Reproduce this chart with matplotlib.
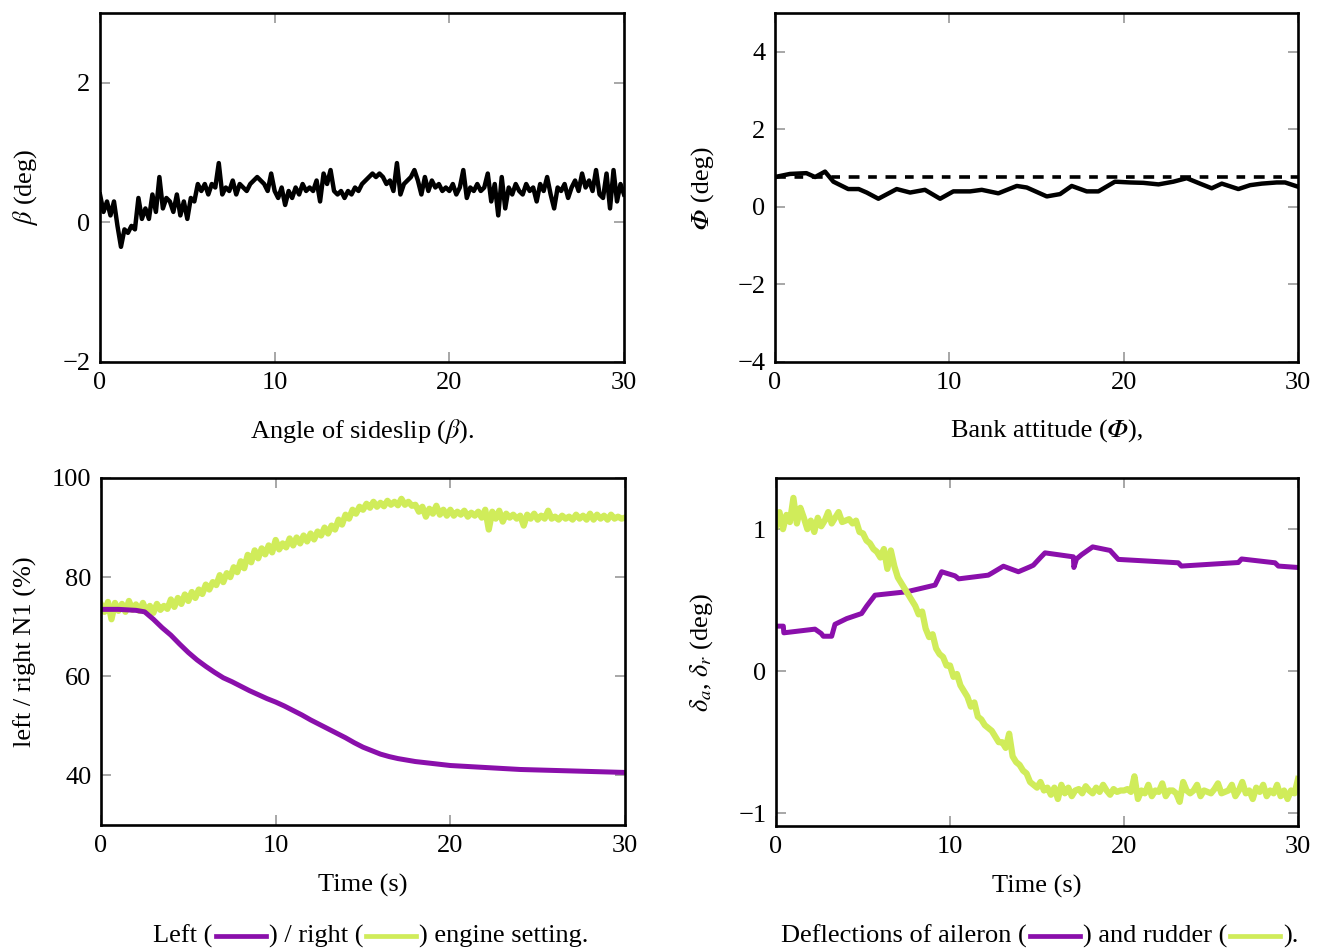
import numpy as np
import matplotlib
matplotlib.use('Agg')
import matplotlib.pyplot as plt
from matplotlib.lines import Line2D

plt.rcParams['font.family'] = ['Liberation Serif', 'STIXGeneral', 'DejaVu Serif']
plt.rcParams['mathtext.fontset'] = 'stix'

PURPLE = '#8a0fab'
YELLOW = '#d0ec5a'
FS = 19
PHI = '\U0001D6F7'  # italic capital phi

# time grids (s)
t_fine = np.linspace(0, 30, 151)
t_half = np.linspace(0, 30, 61)

# sideslip angle beta (deg), every 0.2 s
beta = [0.40, 0.15, 0.30, 0.10, 0.30, -0.05, -0.35, -0.10, -0.15, -0.05,
        -0.10, 0.35, 0.05, 0.20, 0.05, 0.40, 0.15, 0.65, 0.20, 0.35,
        0.30, 0.15, 0.40, 0.10, 0.30, 0.05, 0.35, 0.30, 0.55, 0.45,
        0.55, 0.40, 0.55, 0.50, 0.85, 0.40, 0.50, 0.45, 0.60, 0.40,
        0.55, 0.50, 0.45, 0.55, 0.60, 0.65, 0.60, 0.55, 0.45, 0.70,
        0.45, 0.35, 0.50, 0.25, 0.45, 0.35, 0.50, 0.40, 0.55, 0.45,
        0.50, 0.45, 0.60, 0.30, 0.70, 0.55, 0.75, 0.45, 0.40, 0.45,
        0.35, 0.45, 0.40, 0.50, 0.45, 0.55, 0.60, 0.65, 0.70, 0.65,
        0.70, 0.65, 0.55, 0.60, 0.45, 0.85, 0.40, 0.55, 0.60, 0.65,
        0.75, 0.60, 0.40, 0.65, 0.45, 0.60, 0.50, 0.55, 0.45, 0.50,
        0.45, 0.55, 0.40, 0.50, 0.75, 0.35, 0.50, 0.45, 0.55, 0.45,
        0.50, 0.70, 0.30, 0.55, 0.10, 0.65, 0.20, 0.50, 0.40, 0.55,
        0.45, 0.40, 0.55, 0.45, 0.50, 0.30, 0.55, 0.45, 0.65, 0.40,
        0.20, 0.50, 0.45, 0.55, 0.35, 0.50, 0.60, 0.45, 0.70, 0.50,
        0.60, 0.45, 0.75, 0.40, 0.35, 0.70, 0.20, 0.75, 0.30, 0.55,
        0.40]

# bank attitude phi (deg)
phi_t = [0.0, 0.1, 0.86, 1.8, 2.3, 2.87, 3.35, 4.2, 4.8, 5.26, 5.93, 6.98,
         7.75, 8.6, 9.47, 10.23, 11.19, 11.86, 12.81, 13.87, 14.44, 15.59,
         16.35, 17.02, 17.88, 18.55, 19.5, 20.37, 21.13, 22.0, 22.85, 23.62,
         24.38, 25.05, 25.63, 26.58, 27.25, 27.92, 28.78, 29.26, 30.0]
phi = [0.76, 0.78, 0.85, 0.87, 0.77, 0.91, 0.65, 0.46, 0.46, 0.37, 0.21, 0.46,
       0.37, 0.44, 0.21, 0.40, 0.40, 0.44, 0.35, 0.54, 0.50, 0.27,
       0.33, 0.54, 0.40, 0.40, 0.65, 0.63, 0.62, 0.58, 0.65, 0.74,
       0.60, 0.48, 0.60, 0.46, 0.56, 0.60, 0.63, 0.63, 0.52]
phi_ref = 0.78

# engine N1 (%)
n1_left = [73.5, 73.5, 73.5, 73.4, 73.3, 73.0, 71.5, 69.8, 68.3, 66.5,
           64.8, 63.3, 62.0, 60.8, 59.7, 58.9, 58.0, 57.1, 56.3, 55.5,
           54.8, 54.0, 53.1, 52.2, 51.2, 50.3, 49.4, 48.5, 47.6, 46.6,
           45.7, 45.0, 44.3, 43.8, 43.4, 43.1, 42.8, 42.6, 42.4, 42.2,
           42.0, 41.9, 41.8, 41.7, 41.6, 41.5, 41.4, 41.3, 41.2, 41.15,
           41.1, 41.05, 41.0, 40.95, 40.9, 40.85, 40.8, 40.75, 40.7, 40.65,
           40.6]
n1_right = [74.5, 73.0, 75.0, 71.5, 74.8, 73.2, 74.6, 73.0, 75.2, 73.4,
            74.5, 73.2, 74.8, 73.0, 74.2, 72.8, 74.6, 73.4, 74.2, 73.6,
            75.5, 74.0, 75.8, 74.6, 76.5, 75.2, 77.0, 75.8, 77.5, 76.6,
            78.5, 77.5, 79.0, 78.4, 80.4, 79.0, 80.8, 80.0, 82.0, 81.0,
            83.2, 81.8, 84.5, 83.0, 85.4, 83.8, 85.8, 84.6, 86.4, 85.0,
            87.5, 85.6, 86.8, 86.0, 87.8, 86.4, 88.0, 86.8, 88.4, 87.2,
            88.8, 87.6, 89.2, 88.4, 90.0, 88.8, 90.4, 89.6, 91.6, 90.6,
            92.6, 91.8, 93.6, 92.8, 94.2, 93.6, 94.8, 94.0, 95.2, 94.2,
            95.0, 94.3, 95.4, 94.6, 95.2, 94.5, 95.8, 94.6, 95.2, 94.4,
            94.6, 93.2, 94.2, 92.2, 93.8, 92.8, 94.4, 92.6, 93.6, 92.4,
            93.6, 92.4, 93.2, 92.6, 93.4, 92.2, 93.0, 92.4, 93.2, 92.0,
            93.6, 89.6, 93.2, 91.8, 93.4, 91.2, 92.8, 92.0, 92.6, 91.8,
            92.4, 90.4, 92.6, 91.8, 92.8, 91.6, 92.4, 91.8, 93.4, 91.8,
            92.2, 91.6, 92.4, 91.8, 92.2, 91.6, 92.6, 91.8, 92.4, 91.6,
            92.8, 91.6, 92.6, 91.8, 92.4, 91.6, 92.6, 91.8, 92.2, 91.8,
            92.0]

# aileron deflection (deg)
ail_t = [0.0, 0.42, 0.45, 2.24, 2.6, 2.72, 3.2, 3.39, 4.06, 4.92, 5.21, 5.69,
         7.51, 9.14, 9.52, 10.29, 10.5, 12.2, 12.4, 13.07, 13.93, 14.6, 14.79,
         15.2, 15.46, 17.09, 17.12, 17.27, 17.56, 18.2, 19.2, 19.67, 23.12,
         23.3, 26.57, 26.76, 28.68, 28.87, 30.0]
ail = [0.317, 0.317, 0.27, 0.296, 0.265, 0.246, 0.246, 0.33, 0.37, 0.406, 0.458, 0.535,
       0.559, 0.606, 0.70, 0.671, 0.65, 0.676, 0.69, 0.739, 0.70, 0.735, 0.746,
       0.80, 0.833, 0.805, 0.73, 0.79, 0.82, 0.875, 0.85, 0.787, 0.763,
       0.74, 0.765, 0.79, 0.763, 0.74, 0.73]

# rudder deflection (deg), every 0.2 s
rud = [1.02, 1.12, 1.00, 1.10, 1.05, 1.22, 1.04, 1.15, 1.08, 1.00,
       1.06, 0.98, 1.08, 1.02, 1.06, 1.12, 1.04, 1.08, 1.12, 1.05,
       1.06, 1.07, 1.04, 1.06, 0.98, 0.97, 0.92, 0.90, 0.86, 0.84,
       0.80, 0.86, 0.72, 0.85, 0.74, 0.66, 0.62, 0.58, 0.54, 0.50,
       0.46, 0.40, 0.42, 0.30, 0.24, 0.26, 0.16, 0.12, 0.10, 0.04,
       0.04, -0.04, -0.02, -0.10, -0.14, -0.18, -0.25, -0.22, -0.32, -0.34,
       -0.38, -0.40, -0.42, -0.46, -0.50, -0.50, -0.54, -0.44, -0.60, -0.64,
       -0.66, -0.70, -0.72, -0.78, -0.80, -0.82, -0.78, -0.84, -0.82, -0.87,
       -0.82, -0.90, -0.80, -0.86, -0.82, -0.88, -0.84, -0.83, -0.86, -0.81,
       -0.84, -0.86, -0.82, -0.85, -0.80, -0.84, -0.87, -0.83, -0.85, -0.84,
       -0.84, -0.83, -0.85, -0.74, -0.90, -0.84, -0.86, -0.80, -0.88, -0.84,
       -0.85, -0.79, -0.88, -0.84, -0.84, -0.86, -0.92, -0.78, -0.84, -0.86,
       -0.84, -0.80, -0.88, -0.84, -0.85, -0.86, -0.83, -0.79, -0.86, -0.85,
       -0.84, -0.80, -0.88, -0.84, -0.78, -0.86, -0.84, -0.90, -0.82, -0.85,
       -0.80, -0.88, -0.84, -0.86, -0.80, -0.88, -0.84, -0.90, -0.84, -0.86,
       -0.76]

W, H = 1321, 948
fig = plt.figure(figsize=(W / 100, H / 100), dpi=100)


def style(ax, yticks):
    for s in ax.spines.values():
        s.set_linewidth(1.9)
    ax.tick_params(direction='in', top=True, right=True, length=7, width=1.1,
                   color='#909090', labelsize=FS, pad=7)
    ax.set_xlim(0, 30)
    ax.set_xticks([0, 10, 20, 30])
    ax.set_yticks(yticks)


ax1 = fig.add_axes([100 / W, 1 - 362 / H, 524 / W, 349 / H])
ax1.plot(t_fine, beta, color='black', lw=3.2)
ax1.set_ylim(-2, 3)
style(ax1, [-2, 0, 2])
ax1.set_ylabel(r'$\beta$ (deg)', fontsize=FS)
ax1.yaxis.set_label_coords(-0.115, 0.5)

ax2 = fig.add_axes([775 / W, 1 - 362 / H, 523 / W, 349 / H])
ax2.plot(phi_t, phi, color='black', lw=3.2)
ref_line, = ax2.plot([0, 30], [phi_ref, phi_ref], color='black', lw=2.6)
ref_line.set_dashes((3, 2.4, 2.4, 2.4))
ax2.set_ylim(-4, 5)
style(ax2, [-4, -2, 0, 2, 4])
ax2.set_ylabel(PHI + ' (deg)', fontsize=FS)
ax2.yaxis.set_label_coords(-0.115, 0.5)

ax3 = fig.add_axes([101 / W, 1 - 825 / H, 524 / W, 347 / H])
ax3.plot(t_fine, n1_right, color=YELLOW, lw=4.5)
ax3.plot(t_half, n1_left, color=PURPLE, lw=3.6)
ax3.set_ylim(30, 100)
style(ax3, [40, 60, 80, 100])
ax3.set_ylabel('left / right N1 (%)', fontsize=FS)
ax3.yaxis.set_label_coords(-0.122, 0.5)
ax3.set_xlabel('Time (s)', fontsize=FS)
ax3.xaxis.set_label_coords(0.5, -0.14)

ax4 = fig.add_axes([776 / W, 1 - 826 / H, 522 / W, 348 / H])
ax4.plot(ail_t, ail, color=PURPLE, lw=3.6)
ax4.plot(t_fine, rud, color=YELLOW, lw=4.5)
ax4.set_ylim(-1.09, 1.36)
style(ax4, [-1, 0, 1])
ax4.set_ylabel(r'$\delta_a$, $\delta_r$ (deg)', fontsize=FS)
ax4.yaxis.set_label_coords(-0.117, 0.5)
ax4.set_xlabel('Time (s)', fontsize=FS)
ax4.xaxis.set_label_coords(0.5, -0.14)


def caption(xc, ybase, parts, sample=56):
    # text pieces with short coloured line samples in between
    r = fig.canvas.get_renderer()
    items = []
    total = 0
    for p in parts:
        if p.startswith('#'):
            items.append((p, sample))
            total += sample
        else:
            t = fig.text(0, 1 - ybase / H, p, ha='left', va='baseline', fontsize=FS)
            w = t.get_window_extent(r).width
            items.append((t, w))
            total += w
    x = xc - total / 2
    for obj, w in items:
        if isinstance(obj, str):
            yl = 1 - (ybase - 7) / H
            fig.add_artist(Line2D([(x + 3) / W, (x + w - 3) / W], [yl, yl],
                                  color=obj, lw=3.4, transform=fig.transFigure))
        else:
            obj.set_x(x / W)
        x += w


caption(362, 438, [r'Angle of sideslip ($\beta$).'])
caption(1047, 438, ['Bank attitude (' + PHI + '),'])
caption(371, 943, ['Left (', PURPLE, ') / right (', YELLOW, ') engine setting.'])
caption(1040, 943, ['Deflections of aileron (', PURPLE, ') and rudder (', YELLOW, ').'])

fig.savefig('out.png', dpi=100)
